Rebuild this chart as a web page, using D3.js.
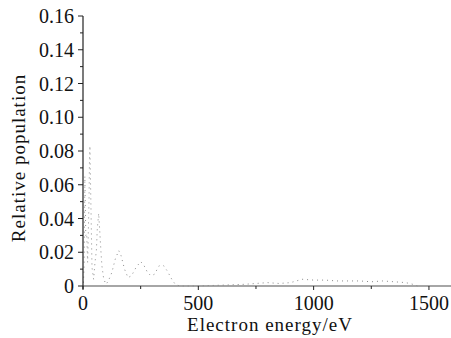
<!DOCTYPE html>
<head>
<meta charset="utf-8">
<script src="https://d3js.org/d3.v7.min.js"></script>
</head>
<style>
body { margin: 0; background: #fff; }
.curve { fill: none; stroke: #8a8a8a; stroke-width: 1px; stroke-dasharray: 1,4; }
</style>
<body>
<script>
// electron energy distribution
var energy = [2, 5, 8, 12, 16, 20, 22, 26, 28, 30, 32, 36, 39, 46, 52, 58, 62, 66, 68, 72, 78, 82,
  90, 100, 110, 125, 140, 155, 165, 180, 195, 210, 230, 250, 265, 280, 295, 310, 330, 350, 365,
  385, 400, 420, 500, 600, 700, 800, 850, 900, 950, 1000, 1050, 1100, 1150, 1200, 1250, 1300,
  1350, 1400, 1430, 1450];
var population = [0.002, 0.012, 0.065, 0.03, 0.031, 0.014, 0.025, 0.05, 0.074, 0.083, 0.066, 0.035,
  0.011, 0.004, 0.014, 0.021, 0.034, 0.04, 0.043, 0.034, 0.02, 0.012,
  0.004, 0.001, 0.003, 0.008, 0.016, 0.021, 0.018, 0.01, 0.005, 0.006, 0.011, 0.0145, 0.012,
  0.008, 0.006, 0.007, 0.012, 0.012, 0.009, 0.004, 0.001, 0, 0, 0.0005, 0.001, 0.002, 0.0015,
  0.002, 0.004, 0.0035, 0.0035, 0.003, 0.003, 0.003, 0.0025, 0.003, 0.0025, 0.002, 0.001, 0];
var xTicks = [0, 500, 1000, 1500];
var yTicks = [0, 0.02, 0.04, 0.06, 0.08, 0.10, 0.12, 0.14, 0.16];

var W = 451, H = 338;
var serif = "'Liberation Serif', 'DejaVu Serif', serif";
var x = d3.scaleLinear().domain([0, 1600]).range([83, 452]);
var y = d3.scaleLinear().domain([0, 0.16]).range([286, 16]);

var svg = d3.select("body").append("svg")
    .attr("width", W).attr("height", H);

// data curve
var line = d3.line()
    .x(function(d, i) { return x(energy[i]); })
    .y(function(d) { return y(d); });
svg.append("path").datum(population)
    .attr("class", "curve")
    .attr("d", line);

// x axis
var gx = svg.append("g").attr("transform", "translate(0," + y(0) + ")");
gx.append("line").attr("x1", x(0)).attr("x2", W).attr("stroke", "#888").attr("stroke-width", 1.5);
gx.selectAll(".minor").data(d3.range(0, 1601, 250)).enter().append("line")
    .attr("x1", function(d) { return x(d); }).attr("x2", function(d) { return x(d); })
    .attr("y1", 0).attr("y2", function(d) { return d % 500 === 0 ? 4 : 3; })
    .attr("stroke", "#222");
gx.selectAll("text").data(xTicks).enter().append("text")
    .attr("x", function(d) { return x(d); }).attr("y", 24)
    .attr("text-anchor", "middle")
    .attr("font-family", serif).attr("font-size", 20).attr("fill", "#111")
    .text(function(d) { return d; });

// y axis
var gy = svg.append("g").attr("transform", "translate(" + x(0) + ",0)");
gy.append("line").attr("y1", y(0.16)).attr("y2", y(0) + 3).attr("stroke", "#222").attr("stroke-width", 1.2);
gy.selectAll(".tk").data(d3.range(0, 17)).enter().append("line")
    .attr("x1", function(d) { return d % 2 === 0 ? -5 : -3; }).attr("x2", 0)
    .attr("y1", function(d) { return y(d / 100); }).attr("y2", function(d) { return y(d / 100); })
    .attr("stroke", "#222");
gy.selectAll("text").data(yTicks).enter().append("text")
    .attr("x", -9).attr("y", function(d) { return y(d) + 7; })
    .attr("text-anchor", "end")
    .attr("font-family", serif).attr("font-size", 20).attr("fill", "#111")
    .text(function(d) { return d === 0 ? "0" : d.toFixed(2); });

// axis titles
svg.append("text").attr("x", 270).attr("y", 331)
    .attr("text-anchor", "middle")
    .attr("font-family", serif).attr("font-size", 19).attr("fill", "#111")
    .style("letter-spacing", "1px")
    .text("Electron energy/eV");
svg.append("text").attr("transform", "translate(25,158) rotate(-90)")
    .attr("text-anchor", "middle")
    .attr("font-family", serif).attr("font-size", 19).attr("fill", "#111")
    .style("letter-spacing", "1px")
    .text("Relative population");
</script>
</body>
